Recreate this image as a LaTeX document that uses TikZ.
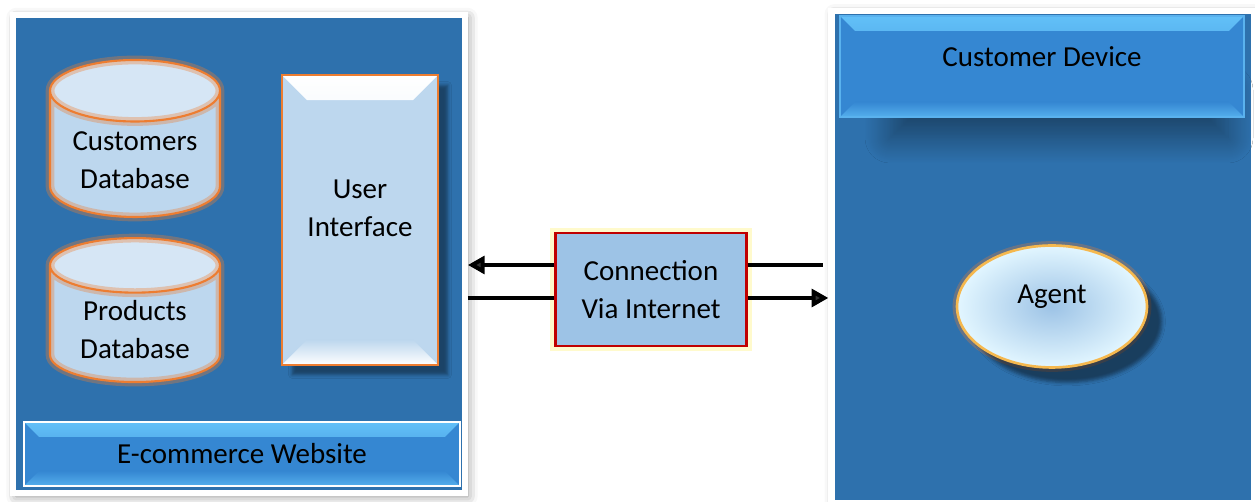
\documentclass[tikz,border=0pt]{standalone}
\usepackage{fontspec}
\setmainfont{Carlito}
\usetikzlibrary{positioning,arrows.meta,shapes.geometric,shadows.blur}

\definecolor{panelblue}{HTML}{2E71AD}
\definecolor{barblue}{HTML}{3587D2}
\definecolor{barlight}{HTML}{62C0F8}
\definecolor{barline}{HTML}{5AB2EE}
\definecolor{paleblue}{HTML}{BDD7EE}
\definecolor{paletop}{HTML}{D6E6F5}
\definecolor{linkblue}{HTML}{9DC3E6}
\definecolor{accent}{HTML}{ED7D31}
\definecolor{linkred}{HTML}{C00000}
\definecolor{glowyellow}{HTML}{FFF59A}
\definecolor{agentrim}{HTML}{F5B84E}
\definecolor{agentout}{HTML}{E2F6FF}

\begin{document}
\begin{tikzpicture}[
    x=0.02cm, y=-0.02cm,
    font=\fontsize{16.5}{21.5}\selectfont,
    >={Triangle[length=9.5pt,width=10pt]},
    link/.style={line width=2.3pt},
    bevel/.style n args={3}{path picture={
        \shade[#2] (path picture bounding box.north west)
            -- (path picture bounding box.north east)
            -- ([shift={(-#1,-#1)}]path picture bounding box.north east)
            -- ([shift={(#1,-#1)}]path picture bounding box.north west) -- cycle;
        \shade[#3] (path picture bounding box.south west)
            -- (path picture bounding box.south east)
            -- ([shift={(-#1,#1)}]path picture bounding box.south east)
            -- ([shift={(#1,#1)}]path picture bounding box.south west) -- cycle;
    }},
    panel/.style={
        draw=white, line width=3.6pt,
        fill=panelblue,
        blur shadow={shadow xshift=0.6mm, shadow yshift=-0.6mm,
                     shadow blur radius=2mm, shadow opacity=45}
    },
    banner/.style={
        fill=barblue,
        bevel={0.3cm}{top color=barlight, bottom color=barblue}
                     {top color=barblue, bottom color=barlight!70!barblue}
    },
    dbase/.style={
        cylinder, shape border rotate=90, aspect=0.45,
        draw=accent, line width=1.2pt,
        cylinder uses custom fill,
        cylinder body fill=paleblue,
        cylinder end fill=paletop,
        minimum width=3.4cm,
        align=center,
        preaction={draw=accent, line width=5pt, draw opacity=0.35}
    },
    uibox/.style={
        draw=accent, line width=1.2pt,
        fill=paleblue,
        minimum width=3.12cm, minimum height=5.8cm,
        bevel={0.5cm}{top color=white, bottom color=paleblue}
                     {top color=paleblue, bottom color=white},
        blur shadow={shadow xshift=2mm, shadow yshift=-2mm, shadow opacity=40}
    },
    linkbox/.style={
        draw=linkred, line width=1.2pt,
        fill=linkblue,
        minimum width=3.82cm, minimum height=2.26cm,
        align=center,
        preaction={draw=glowyellow, line width=6pt, draw opacity=0.5}
    },
    agent/.style={
        ellipse, draw=agentrim, line width=1.5pt,
        inner color=linkblue, outer color=agentout,
        minimum width=3.8cm, minimum height=2.44cm,
        preaction={draw=accent, line width=5pt, draw opacity=0.3},
        blur shadow={shadow xshift=3mm, shadow yshift=-3mm, shadow opacity=45}
    }
]
\useasboundingbox (0,0) rectangle (1255,502);

% Website side
\node[panel, minimum width=9.03cm, minimum height=9.57cm] (site) at (239,254) {};
\node[banner, draw=white, line width=1.2pt,
      minimum width=8.72cm, minimum height=1.28cm] (webbar) at (242,454)
  {E-commerce Website};

\node[dbase, minimum height=3.14cm] (custdb) at (135,160) {Customers\\Database};
\node[dbase, minimum height=2.88cm, below=0.38cm of custdb] (proddb) {Products\\Database};

\node[uibox, label={[align=center, yshift=0.24cm]center:User\\Interface}] (ui) at (360,220) {};

% Customer side
\node[panel, minimum width=8.46cm, minimum height=9.84cm] (device) at (1043,257) {};
\path[blur shadow={shadow xshift=0, shadow yshift=0, shadow blur steps=24,
                   shadow blur radius=5mm, shadow opacity=40}]
  (890,90) rectangle (1228,138);
\node[banner, draw=barline, line width=0.8pt,
      minimum width=8.08cm, minimum height=2.02cm,
      label={[yshift=0.19cm]center:Customer Device}] (devbar) at (1042,66.5) {};

\node[agent, label={[yshift=0.19cm]center:Agent}] (agent) at (1052,306.5) {};

% Link in the middle
\node[linkbox] (conn) at (651,289.5) {Connection\\Via Internet};

\draw[link, ->] (conn.west |- 0,265) -- (site.east |- 0,265);
\draw[link, shorten >=3pt] (conn.east |- 0,265) -- (device.west |- 0,265);
\draw[link] (site.east |- 0,298) -- (conn.west |- 0,298);
\draw[link, ->] (conn.east |- 0,298) -- (device.west |- 0,298);

\end{tikzpicture}
\end{document}
